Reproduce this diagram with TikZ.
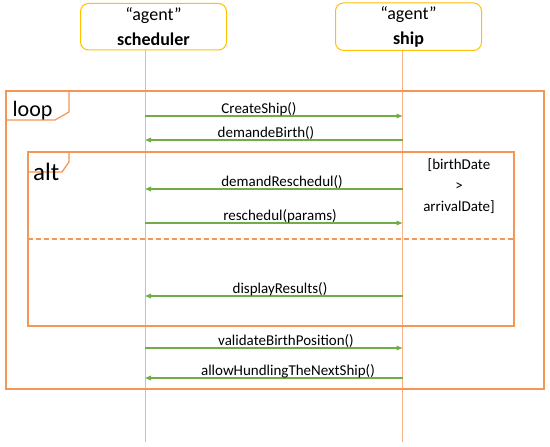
\documentclass[tikz,border=0pt]{standalone}
\usepackage{fontspec}
\setmainfont{Carlito}
\usepackage{xcolor}
\definecolor{framecol}{RGB}{245,150,85}
\definecolor{lifecol}{RGB}{246,180,140}
\definecolor{agentcol}{RGB}{255,192,0}
\definecolor{msgcol}{RGB}{112,173,71}
\usetikzlibrary{arrows.meta}
\tikzset{>=stealth}
\tikzset{%
    agent/.style={draw=agentcol, line width=1pt, rounded corners=8pt,
        minimum width=146pt, minimum height=46.5pt, align=center,
        font=\fontsize{18}{25}\selectfont},
    lifeline/.style={draw=lifecol, line width=0.9pt},
    frame/.style={draw=framecol, line width=1.3pt},
    msg/.style={draw=msgcol, line width=1.6pt, -{Triangle[length=6pt,width=4.5pt]}},
    msglabel/.style={anchor=base, yshift=3pt, inner sep=0pt,
        font=\fontsize{15}{18}\selectfont}
}

\begin{document}
\begin{tikzpicture}[x=1pt,y=-1pt]
    \useasboundingbox (0,0) rectangle (550,447);

    % agents and lifelines
    \node[agent] (sched) at (153.5,26.7) {“agent”\\\textbf{scheduler}};
    \node[agent] (ship) at (408.5,26.7) {“agent”\\\textbf{ship}};
    \coordinate (schedEnd) at (145,442);
    \coordinate (shipEnd) at (402.5,442);
    \draw[lifeline] (schedEnd |- sched.south) -- (schedEnd);
    \draw[lifeline] (shipEnd |- ship.south) -- (shipEnd);

    % loop frame
    \draw[frame] (6,91) rectangle (544,389);
    \draw[frame] (6,120) -- (55,120) -- (69,112) -- (69,91);
    \node[anchor=base west, inner sep=0pt, font=\fontsize{22}{22}\selectfont] (loop) at (12.5,116) {loop};

    % alt frame
    \draw[frame] (28,152) rectangle (514,326);
    \draw[frame] (28,172) -- (62,172) -- (69,162) -- (69,152);
    \node[anchor=base west, inner sep=0pt, font=\fontsize{25}{25}\selectfont] (alt) at (33,180) {alt};
    \draw[frame, dash pattern=on 5pt off 3pt] (28,239) -- (514,239);
    \node[align=center, font=\fontsize{15}{21}\selectfont] (guard) at (459,186) {[birthDate\\>\\arrivalDate]};

    % messages
    \foreach \y/\a/\b/\lx/\t [count=\i] in {116/s/h/259/CreateShip(),
        140/h/s/266/demandeBirth(), 189/h/s/282/demandReschedul(),
        223/s/h/280/reschedul(params), 296/h/s/280/displayResults(),
        348/s/h/286/validateBirthPosition(), 378/h/s/288/allowHundlingTheNextShip()}
    {
        \coordinate (s\i) at (schedEnd |- 0,\y);
        \coordinate (h\i) at (shipEnd |- 0,\y);
        \draw[msg] (\a\i) -- (\b\i);
        \node[msglabel] (m\i) at (\lx,\y) {\t};
    }
\end{tikzpicture}
\end{document}
